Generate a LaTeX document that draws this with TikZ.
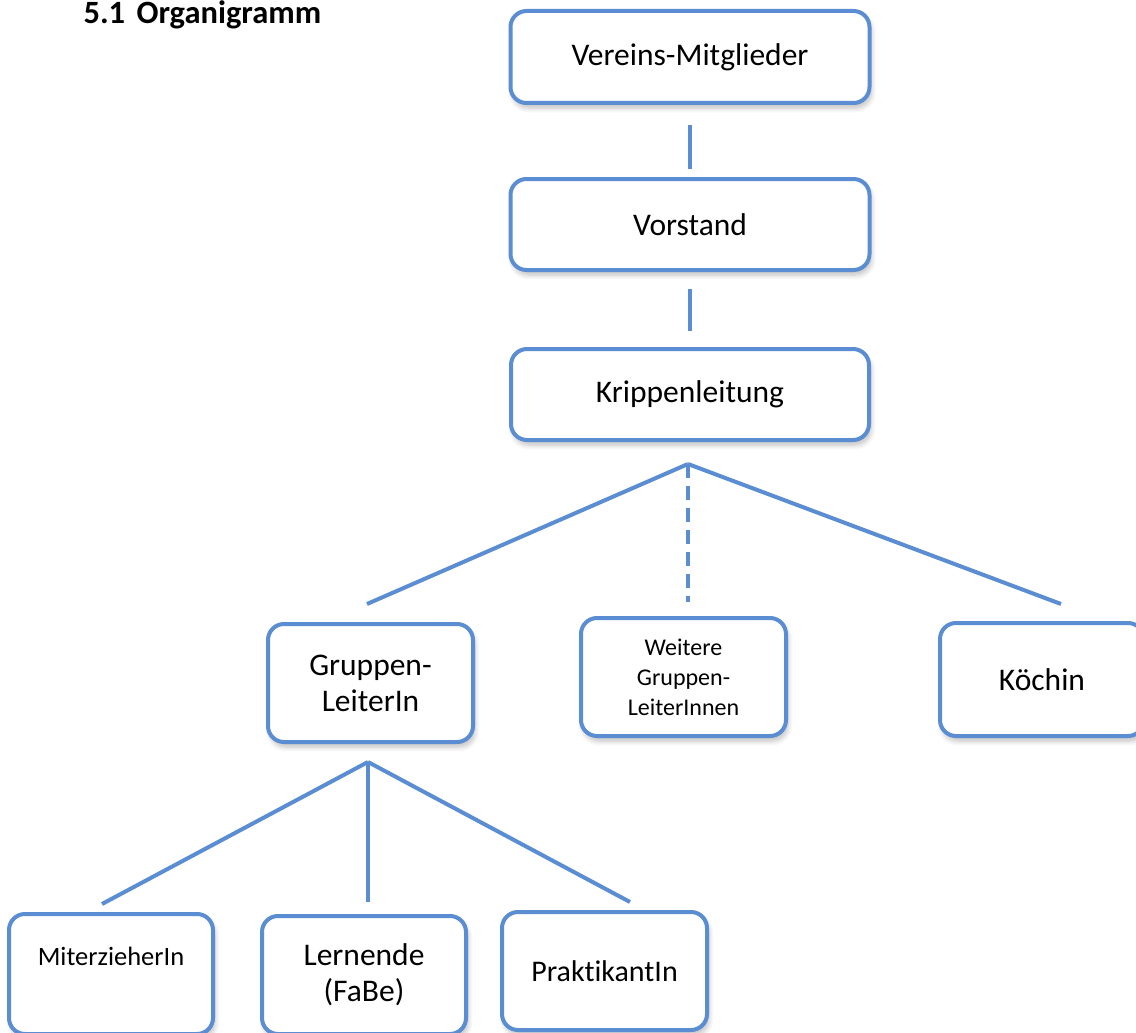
\documentclass[tikz,border=0pt]{standalone}
\usepackage{fontspec}
\setmainfont{Carlito}[Ligatures=NoCommon]
\usetikzlibrary{shadows.blur}
\definecolor{orgblue}{HTML}{5B8DD3}
\tikzset{
  orgbox/.style={draw=orgblue, line width=4pt, rounded corners=16pt, fill=white,
    align=center, inner sep=0pt,
    blur shadow={shadow blur steps=6, shadow xshift=2pt, shadow yshift=-5pt, shadow opacity=25, shadow blur radius=5pt}},
  bigtext/.style={font=\fontsize{31.5}{36}\selectfont},
  conn/.style={draw=orgblue, line width=4pt},
}
\begin{document}
\begin{tikzpicture}[x=1pt,y=-1pt]
\useasboundingbox (0,0) rectangle (1136,1033);
\node[anchor=base west, font=\bfseries\fontsize{32.5}{36}\selectfont] (title) at (80,24) {5.1\hspace{0.35em}Organigramm};

\node[orgbox, bigtext, minimum width=359pt, minimum height=92pt] (vm) at (690,57) {Vereins-Mitglieder};
\node[orgbox, bigtext, minimum width=359pt, minimum height=91pt] (vs) at (690,224.5) {Vorstand};
\node[orgbox, bigtext, minimum width=358pt, minimum height=91pt] (kl) at (690,394.5) {Krippenleitung};

\node[orgbox, bigtext, minimum width=205pt, minimum height=118pt] (gl) at (370.5,683) {Gruppen-\\LeiterIn};
\node[orgbox, font=\fontsize{24}{30}\selectfont, minimum width=205pt, minimum height=118pt] (wg) at (683.5,677) {Weitere\\Gruppen-\\LeiterInnen};
\node[orgbox, bigtext, minimum width=204pt, minimum height=113pt] (ko) at (1042,679.5) {Köchin};

\node[orgbox, font=\fontsize{26.5}{36}\selectfont, minimum width=204pt, minimum height=120pt] (mi) at (111,974) {MiterzieherIn\\~};
\node[orgbox, bigtext, minimum width=204pt, minimum height=118pt] (le) at (364,975) {Lernende\\(FaBe)};
\node[orgbox, font=\fontsize{30}{36}\selectfont, minimum width=205pt, minimum height=118pt] (pr) at (604.5,971) {PraktikantIn};

\draw[conn] ([yshift=-20pt]vm.south) -- ([yshift=8pt]vs.north);
\draw[conn] ([yshift=-17pt]vs.south) -- ([yshift=16pt]kl.north);

\coordinate (j1) at ([xshift=-2pt,yshift=-22pt]kl.south);
\draw[conn] (j1) -- ([xshift=-3.5pt,yshift=18pt]gl.north);
\draw[conn, dash pattern=on 14pt off 8pt] (j1) -- ([xshift=4.5pt,yshift=14pt]wg.north);
\draw[conn] (j1) -- ([xshift=19pt,yshift=17pt]ko.north);

\coordinate (j2) at ([xshift=-2.5pt,yshift=-18pt]gl.south);
\draw[conn] (j2) -- ([xshift=-9pt,yshift=8pt]mi.north);
\draw[conn] (j2) -- ([xshift=4pt,yshift=12pt]le.north);
\draw[conn] (j2) -- ([xshift=25.5pt,yshift=8pt]pr.north);
\end{tikzpicture}
\end{document}
